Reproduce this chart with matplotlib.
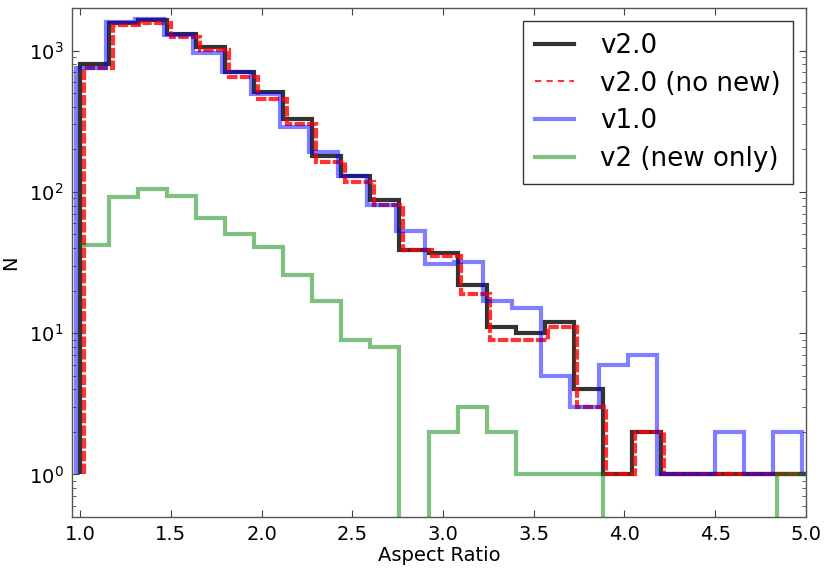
import numpy as np
import matplotlib
matplotlib.use("Agg")
import matplotlib.pyplot as plt
from matplotlib.lines import Line2D

# bin edges (width 0.16, first edge at 1.0)
edges = [1.00, 1.16, 1.32, 1.48, 1.64, 1.80, 1.96, 2.12, 2.28, 2.44, 2.60,
         2.76, 2.92, 3.08, 3.24, 3.40, 3.56, 3.72, 3.88, 4.04, 4.20, 4.36,
         4.52, 4.68, 4.84, 5.00, 5.16]

# counts per bin
v20 = [800, 1570, 1640, 1320, 1060, 700, 510, 330, 180, 130, 88, 39, 37,
       22, 11, 10, 12, 4, 1, 2, 1, 1, 1, 1, 1, 1]
v20_nonew = [750, 1510, 1560, 1250, 1010, 646, 457, 302, 164, 118, 81, 39,
             35, 19, 9, 9, 11, 3, 1, 2, 1, 1, 1, 1, 1, 1]
v10 = [750, 1590, 1660, 1290, 965, 708, 493, 290, 193, 130, 81, 53, 31,
       32, 17, 15, 5, 3, 6, 7, 1, 1, 2, 1, 2, 1]
v2_newonly = [42, 92, 105, 94, 65, 50, 41, 26, 17, 9, 8, 0, 2, 3, 2, 1, 1,
              1, 0, 0, 0, 0, 0, 0, 1]

labels = ["v2.0", "v2.0 (no new)", "v1.0", "v2 (new only)"]

# small horizontal shifts so the overlapping histograms stay visible
shift_red = 0.02
shift_blue = -0.02

e = np.array(edges)

fig = plt.figure(figsize=(8.3, 5.73), dpi=100)
ax = fig.add_axes([0.0867, 0.0977, 0.8843, 0.8883])

ax.stairs(v20, e, baseline=1, color="k", alpha=0.8, lw=3)
ax.stairs(v20_nonew, e + shift_red, baseline=1, color="r", alpha=0.8, lw=3,
          linestyle=(0, (2.5, 0.55)))
ax.stairs(v10, e + shift_blue, baseline=1, color="b", alpha=0.5, lw=3)
ax.stairs(v2_newonly, e[:len(v2_newonly) + 1], baseline=None, color="g",
          alpha=0.5, lw=3)

ax.set_yscale("log", nonpositive="clip")
ax.set_xlim(0.955, 5.0)
ax.set_ylim(0.5, 2000)
ax.set_xticks([1.0, 1.5, 2.0, 2.5, 3.0, 3.5, 4.0, 4.5, 5.0])
ax.set_xticklabels(["1.0", "1.5", "2.0", "2.5", "3.0", "3.5", "4.0", "4.5", "5.0"])

ax.tick_params(which="both", direction="in", top=True, right=True,
               labelsize=14, color="#444444", pad=6)
ax.tick_params(which="major", length=5, width=0.8)
ax.tick_params(which="minor", length=3, width=0.6)
for s in ax.spines.values():
    s.set_color("#555555")
    s.set_linewidth(1.0)

ax.set_xlabel("Aspect Ratio", fontsize=14, labelpad=1)
ax.set_ylabel("N", fontsize=14, labelpad=6)

handles = [
    Line2D([], [], color="k", alpha=0.8, lw=3),
    Line2D([], [], color="r", alpha=0.8, lw=1.5, linestyle=(0, (3, 2.5))),
    Line2D([], [], color="b", alpha=0.5, lw=3),
    Line2D([], [], color="g", alpha=0.5, lw=3),
]
leg = ax.legend(handles, labels, loc="upper right", fontsize=18.8,
                fancybox=False, handlelength=1.5, handletextpad=1.0,
                labelspacing=0.45, borderpad=0.45, borderaxespad=0.5)
leg.get_frame().set_edgecolor("k")
leg.get_frame().set_linewidth(1.0)

fig.savefig("out.png", dpi=100)
